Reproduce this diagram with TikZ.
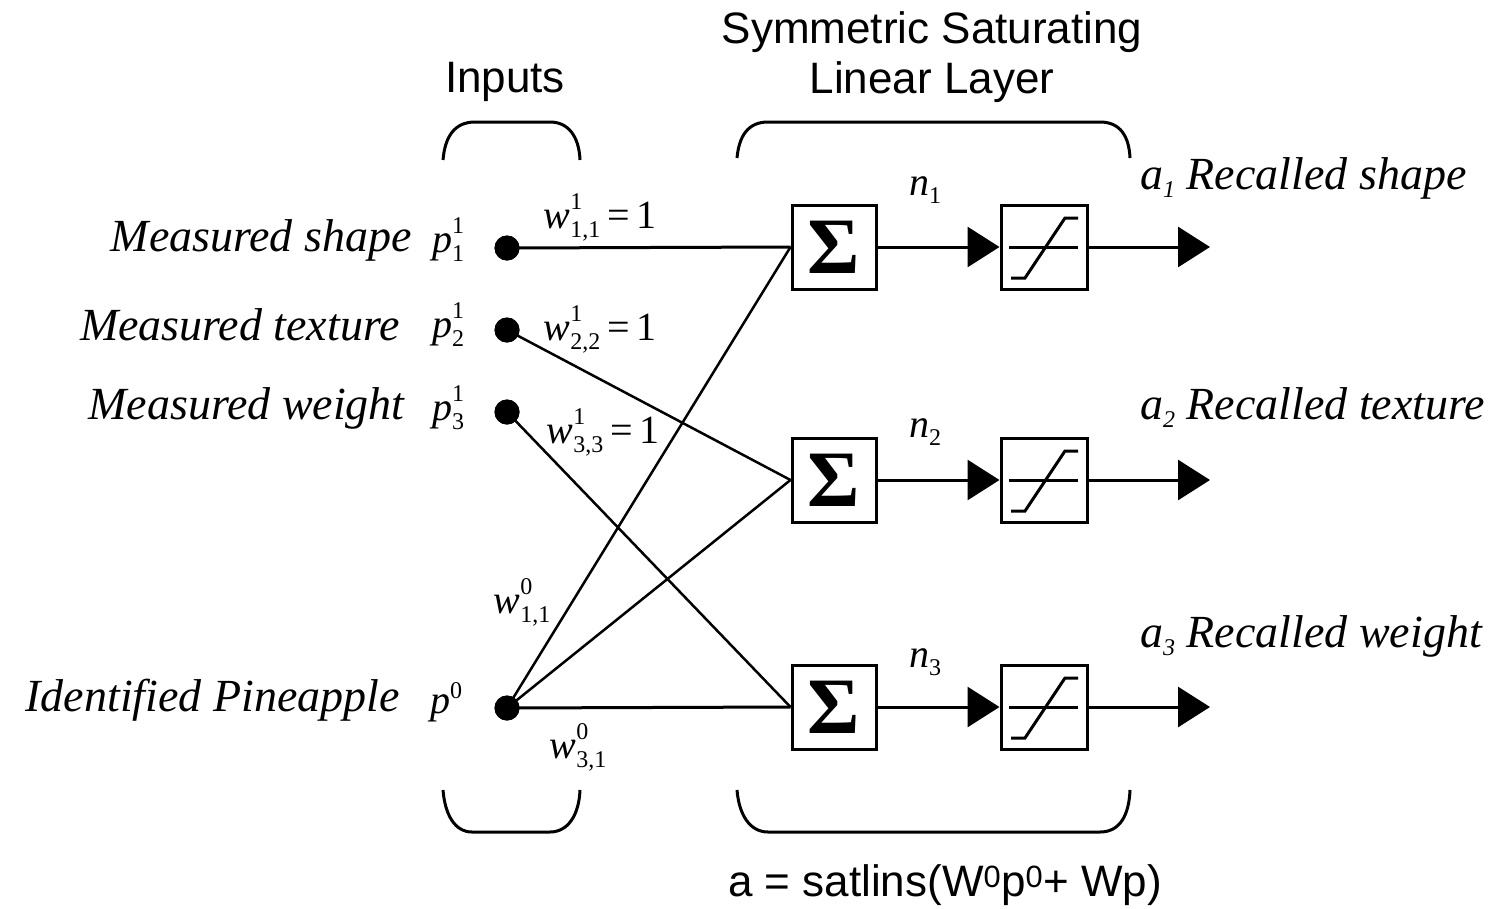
\documentclass[tikz,border=0pt]{standalone}
\usepackage{fontspec}
\setmainfont{Liberation Serif}
\newfontfamily\titlefont{Liberation Sans}
\usetikzlibrary{arrows.meta}
\newcommand{\smallfs}{\fontsize{24}{28}\selectfont}
\newcommand{\ssc}[3]{\textit{#1}\raisebox{-9pt}{\smallfs\begin{tabular}[b]{@{}l@{}}#2\\#3\end{tabular}}}
\newcommand{\supo}[2]{\textit{#1}\raisebox{15pt}{\smallfs #2}}
\newcommand{\subo}[2]{\textit{#1}\raisebox{-8pt}{\smallfs #2}}
\begin{document}
\begin{tikzpicture}[x=1pt,y=-1pt,
  every node/.style={inner sep=0pt},
  wire/.style={line width=3pt},
  thin wire/.style={line width=2.5pt},
  arr/.style={line width=3pt,-{Triangle[length=32pt,width=40pt]}},
  sumbox/.style={draw,line width=3pt,minimum width=84pt,minimum height=84pt,
    font=\fontsize{80}{80}\selectfont\bfseries},
  satbox/.style={draw,line width=3pt,minimum width=86pt,minimum height=84pt},
  dot/.style={circle,fill=black,minimum size=25pt},
  lab/.style={font=\fontsize{46}{50}\selectfont\itshape},
  mlab/.style={font=\fontsize{40}{44}\selectfont},
  ttl/.style={font=\fontsize{44}{48}\selectfont\titlefont,align=center},
  brace/.style={line width=3pt}]
\useasboundingbox (0,0) rectangle (1506,908);

% titles
\node[ttl] (tin) at (505,82) {Inputs};
\node[ttl] (tl1) at (932,32) {Symmetric Saturating};
\node[ttl] (tl2) at (932,82) {Linear Layer};
\node[ttl] (eq) at (945,885) {a = satlins(W\textsuperscript{0}p\textsuperscript{0}+ Wp)};

% braces
\draw[brace] (443,160) .. controls (445,136) and (455,122) .. (475,122) -- (550,122) .. controls (568,122) and (579,136) .. (580,160);
\draw[brace] (737,158) .. controls (739,136) and (748,122) .. (768,122) -- (1100,122) .. controls (1120,122) and (1129,136) .. (1130,158);
\draw[brace] (443,790) .. controls (445,815) and (455,832) .. (472,832) -- (550,832) .. controls (568,832) and (579,815) .. (580,790);
\draw[brace] (737,790) .. controls (739,815) and (750,832) .. (768,832) -- (1100,832) .. controls (1120,832) and (1129,815) .. (1130,790);

% input dots
\node[dot] (p1) at (507,248) {};
\node[dot] (p2) at (507,330) {};
\node[dot] (p3) at (507,412) {};
\node[dot] (p0) at (507,708) {};

% input labels
\node[lab,anchor=east] (l1) at (412,240) {Measured shape};
\node[lab,anchor=east] (l2) at (400,325) {Measured texture};
\node[lab,anchor=east] (l3) at (405,408) {Measured weight};
\node[lab,anchor=east] (l0) at (400,700) {Identified Pineapple};
\node[mlab,anchor=west] (q1) at (432,242) {\ssc{p}{1}{1}};
\node[mlab,anchor=west] (q2) at (432,327) {\ssc{p}{1}{2}};
\node[mlab,anchor=west] (q3) at (432,410) {\ssc{p}{1}{3}};
\node[mlab,anchor=west] (q0) at (430,702) {\supo{p}{0}};

% sum boxes
\node[sumbox] (s1) at (834,247) {Σ};
\node[sumbox] (s2) at (834,480) {Σ};
\node[sumbox] (s3) at (834,707) {Σ};

% satlin boxes
\node[satbox] (t1) at (1044,247) {};
\node[satbox] (t2) at (1044,480) {};
\node[satbox] (t3) at (1044,707) {};
\foreach \t in {t1,t2,t3}{
  \draw[line width=3pt] ([xshift=-35pt]\t.center) -- ([xshift=34pt]\t.center);
  \draw[line width=3pt] ([shift={(-33pt,-31pt)}]\t.center) -- ([shift={(-19pt,-31pt)}]\t.center)
     -- ([shift={(21pt,29pt)}]\t.center) -- ([shift={(34pt,29pt)}]\t.center);
}

% output coordinates
\coordinate (o1) at (1210,247);
\coordinate (o2) at (1210,480);
\coordinate (o3) at (1210,707);

% connections
\draw[wire] (p1.center) -- (s1.west);
\draw[thin wire] (p2.center) -- (s2.west);
\draw[thin wire] (p3.center) -- (s3.west);
\draw[thin wire] (p0.center) -- (s1.west);
\draw[thin wire] (p0.center) -- (s2.west);
\draw[wire] (p0.center) -- (s3.west);
\node[dot] at (p1) {};
\node[dot] at (p2) {};
\node[dot] at (p3) {};
\node[dot] at (p0) {};

\draw[arr] (s1.east) -- (t1.west);
\draw[arr] (s2.east) -- (t2.west);
\draw[arr] (s3.east) -- (t3.west);
\draw[arr] (t1.east) -- (o1);
\draw[arr] (t2.east) -- (o2);
\draw[arr] (t3.east) -- (o3);

% n labels
\node[mlab] (n1) at (925,190) {\subo{n}{1}};
\node[mlab] (n2) at (925,432) {\subo{n}{2}};
\node[mlab] (n3) at (925,662) {\subo{n}{3}};

% weight labels
\node[mlab] (w11) at (600,218) {\ssc{w}{1}{1,1}\,=\,1};
\node[mlab] (w22) at (600,330) {\ssc{w}{1}{2,2}\,=\,1};
\node[mlab] (w33) at (603,433) {\ssc{w}{1}{3,3}\,=\,1};
\node[mlab] (w01) at (522,603) {\ssc{w}{0}{1,1}};
\node[mlab] (w31) at (578,748) {\ssc{w}{0}{3,1}};

% output labels
\node[lab,anchor=west] (a1) at (1140,178) {\subo{a}{1} Recalled shape};
\node[lab,anchor=west] (a2) at (1140,408) {\subo{a}{2} Recalled texture};
\node[lab,anchor=west] (a3) at (1140,636) {\subo{a}{3} Recalled weight};
\end{tikzpicture}
\end{document}
